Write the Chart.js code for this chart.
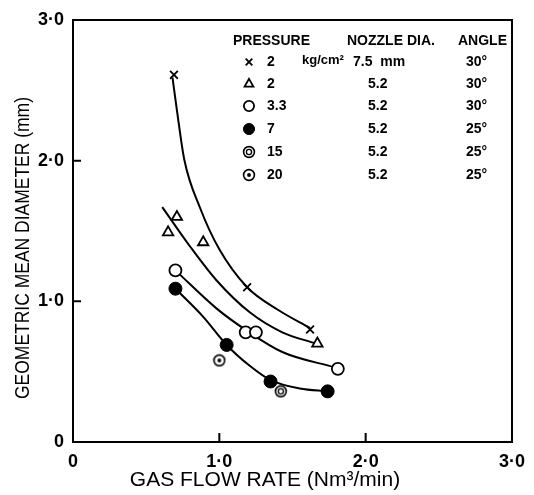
<!DOCTYPE html>
<html>
<head>
<meta charset="utf-8">
<script src="https://cdn.jsdelivr.net/npm/chart.js@4/dist/chart.umd.min.js"></script>
<style>
  html, body { margin: 0; padding: 0; background: #fff; }
  canvas { display: block; }
</style>
</head>
<body>
<canvas id="chart" width="534" height="495"></canvas>
<script>
// axis ticks
const tickValues = [0, 1, 2, 3];
const tickLabels = ["0", "1·0", "2·0", "3·0"];

// measured points, gas flow rate (Nm3/min) vs geometric mean diameter (mm)
const crossX = [0.69, 1.19, 1.62];
const crossY = [2.61, 1.10, 0.80];
const triX = [0.65, 0.71, 0.89, 1.67];
const triY = [1.49, 1.60, 1.42, 0.70];
const openX = [0.70, 1.18, 1.25, 1.81];
const openY = [1.22, 0.78, 0.78, 0.52];
const filledX = [0.70, 1.05, 1.35, 1.74];
const filledY = [1.09, 0.69, 0.43, 0.36];
const p15X = [1.42];
const p15Y = [0.36];
const p20X = [1.00];
const p20Y = [0.58];

// hand drawn fit curves
const crossCurveX = [0.68, 0.71, 0.76, 0.87, 1.00, 1.19, 1.40, 1.62];
const crossCurveY = [2.59, 2.36, 2.01, 1.66, 1.37, 1.10, 0.94, 0.81];
const triCurveX = [0.61, 0.80, 0.98, 1.21, 1.43, 1.66];
const triCurveY = [1.67, 1.39, 1.15, 0.92, 0.78, 0.70];
const openCurveX = [0.70, 0.98, 1.19, 1.43, 1.79];
const openCurveY = [1.22, 0.95, 0.79, 0.64, 0.53];
const filledCurveX = [0.72, 0.89, 1.05, 1.21, 1.35, 1.55, 1.74];
const filledCurveY = [1.07, 0.89, 0.69, 0.54, 0.44, 0.38, 0.36];

// legend table
const pressureLabels = ["2", "2", "3.3", "7", "15", "20"];
const nozzleLabels = ["7.5  mm", "5.2", "5.2", "5.2", "5.2", "5.2"];
const angleLabels = ["30°", "30°", "30°", "25°", "25°", "25°"];

function toPoints(xs, ys) {
  return xs.map((x, i) => ({ x, y: ys[i] }));
}

function ringIcon(withDot) {
  const c = document.createElement("canvas");
  c.width = 14;
  c.height = 14;
  const g = c.getContext("2d");
  g.strokeStyle = "#000";
  g.lineWidth = 1.6;
  g.beginPath();
  g.arc(7, 7, 5.4, 0, Math.PI * 2);
  g.stroke();
  if (withDot) {
    g.fillStyle = "#000";
    g.beginPath();
    g.arc(7, 7, 1.9, 0, Math.PI * 2);
    g.fill();
  } else {
    g.lineWidth = 1.3;
    g.beginPath();
    g.arc(7, 7, 2.6, 0, Math.PI * 2);
    g.stroke();
  }
  return c;
}

const icon15 = ringIcon(false);
const icon20 = ringIcon(true);

const markerStyles = [
  { pointStyle: "crossRot", radius: 5.5, borderWidth: 1.8, backgroundColor: "#000" },
  { pointStyle: "triangle", radius: 6, borderWidth: 1.8, backgroundColor: "#fff" },
  { pointStyle: "circle", radius: 6, borderWidth: 1.8, backgroundColor: "#fff" },
  { pointStyle: "circle", radius: 6.5, borderWidth: 1, backgroundColor: "#000" },
  { pointStyle: icon15, radius: 7, borderWidth: 0, backgroundColor: "#000" },
  { pointStyle: icon20, radius: 7, borderWidth: 0, backgroundColor: "#000" },
];

function pointSet(xs, ys, style) {
  return {
    data: toPoints(xs, ys),
    showLine: false,
    pointStyle: style.pointStyle,
    pointRadius: style.radius,
    pointBorderWidth: style.borderWidth,
    pointBorderColor: "#000",
    pointBackgroundColor: style.backgroundColor,
  };
}

function curveSet(xs, ys) {
  return {
    data: toPoints(xs, ys),
    showLine: true,
    borderColor: "#000",
    borderWidth: 2,
    pointRadius: 0,
    cubicInterpolationMode: "monotone",
  };
}

const framePlugin = {
  id: "frame",
  beforeDatasetsDraw(chart) {
    const { ctx, chartArea } = chart;
    const xs = chart.scales.x;
    const ys = chart.scales.y;
    ctx.save();
    ctx.strokeStyle = "#000";
    ctx.lineWidth = 2;
    ctx.strokeRect(chartArea.left, chartArea.top, chartArea.right - chartArea.left, chartArea.bottom - chartArea.top);
    // inward ticks
    ctx.beginPath();
    tickValues.slice(1, -1).forEach((v) => {
      const px = xs.getPixelForValue(v);
      ctx.moveTo(px, chartArea.bottom);
      ctx.lineTo(px, chartArea.bottom - 9);
      const py = ys.getPixelForValue(v);
      ctx.moveTo(chartArea.left, py);
      ctx.lineTo(chartArea.left + 8, py);
    });
    ctx.stroke();
    ctx.restore();
  },
  afterDraw(chart) {
    const { ctx, chartArea } = chart;
    ctx.save();
    ctx.fillStyle = "#000";
    ctx.strokeStyle = "#000";

    // axis titles
    ctx.font = "21px 'Liberation Sans', Arial, sans-serif";
    ctx.textAlign = "center";
    ctx.textBaseline = "middle";
    ctx.fillText("GAS FLOW RATE (Nm³/min)", chartArea.left + 192, 480);
    ctx.save();
    ctx.translate(23, 248);
    ctx.rotate(-Math.PI / 2);
    ctx.font = "21px 'Liberation Sans', Arial, sans-serif";
    ctx.fillText("GEOMETRIC MEAN DIAMETER (mm)", 0, 0, 302);
    ctx.restore();

    // legend table
    ctx.textAlign = "left";
    ctx.font = "bold 14px 'Liberation Sans', Arial, sans-serif";
    ctx.fillText("PRESSURE", 233, 41);
    ctx.fillText("NOZZLE DIA.", 347, 41);
    ctx.fillText("ANGLE", 458, 41);

    const rowY = [62, 84, 106, 129, 152, 175];
    rowY.forEach((y, i) => {
      const st = markerStyles[i];
      ctx.fillStyle = st.backgroundColor;
      ctx.strokeStyle = "#000";
      ctx.lineWidth = st.borderWidth || 1;
      Chart.helpers.drawPoint(ctx, {
        pointStyle: st.pointStyle,
        radius: st.radius * 0.85,
        borderWidth: st.borderWidth,
        rotation: 0,
      }, 249, y);
      ctx.fillStyle = "#000";
      ctx.fillText(pressureLabels[i], 267, y);
      ctx.fillText(nozzleLabels[i], i === 0 ? 353 : 368, y);
      ctx.fillText(angleLabels[i], 466, y);
    });
    ctx.font = "bold 13px 'Liberation Sans', Arial, sans-serif";
    ctx.fillText("kg/cm²", 302, 60);
    ctx.restore();
  },
};

const tickFont = { family: "'Liberation Sans', Arial, sans-serif", size: 18, weight: "bold" };

new Chart(document.getElementById("chart"), {
  type: "scatter",
  data: {
    datasets: [
      pointSet(crossX, crossY, markerStyles[0]),
      pointSet(triX, triY, markerStyles[1]),
      pointSet(openX, openY, markerStyles[2]),
      pointSet(filledX, filledY, markerStyles[3]),
      pointSet(p15X, p15Y, markerStyles[4]),
      pointSet(p20X, p20Y, markerStyles[5]),
      curveSet(crossCurveX, crossCurveY),
      curveSet(triCurveX, triCurveY),
      curveSet(openCurveX, openCurveY),
      curveSet(filledCurveX, filledCurveY),
    ],
  },
  options: {
    responsive: false,
    animation: false,
    devicePixelRatio: 1,
    layout: { padding: { left: 0, top: 20, right: 21, bottom: 0 } },
    plugins: {
      legend: { display: false },
      tooltip: { enabled: false },
    },
    scales: {
      x: {
        type: "linear",
        min: 0,
        max: 3,
        grid: { display: false, drawTicks: false },
        border: { display: false },
        ticks: {
          stepSize: 1,
          color: "#000",
          font: tickFont,
          padding: 9,
          maxRotation: 0,
          callback: (value) => tickLabels[tickValues.indexOf(value)],
        },
        afterFit: (scale) => { scale.height = 53; },
      },
      y: {
        type: "linear",
        min: 0,
        max: 3,
        grid: { display: false, drawTicks: false },
        border: { display: false },
        ticks: {
          stepSize: 1,
          color: "#000",
          font: tickFont,
          padding: 9,
          callback: (value) => tickLabels[tickValues.indexOf(value)],
        },
        afterFit: (scale) => { scale.width = 73; },
      },
    },
  },
  plugins: [framePlugin],
});
</script>
</body>
</html>
